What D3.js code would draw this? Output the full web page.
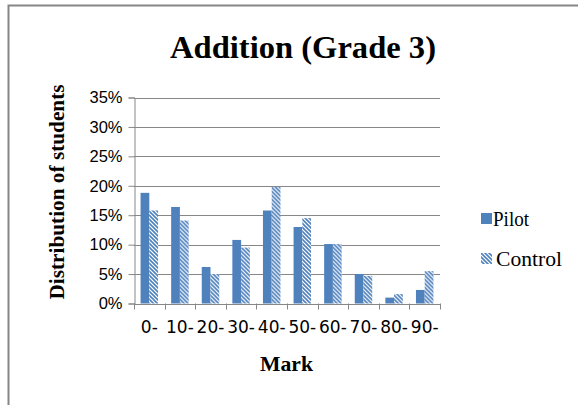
<!DOCTYPE html>
<html>
<head>
<meta charset="utf-8">
<script src="https://cdn.jsdelivr.net/npm/d3@7"></script>
<style>
  html, body { margin: 0; padding: 0; background: #fff; }
  svg { display: block; }
  .serif { font-family: "Liberation Serif", "Times New Roman", serif; fill: #000; }
  .sans { font-family: "Liberation Sans", Arial, sans-serif; fill: #000; }
  .wide { font-family: "DejaVu Sans", Verdana, sans-serif; fill: #000; }
</style>
</head>
<body>
<svg id="chart" width="578" height="405"></svg>
<script>
// Mark bands and share of students in each band
const categories = ["0-", "10-", "20-", "30-", "40-", "50-", "60-", "70-", "80-", "90-"];
const pilot   = [18.8, 16.4, 6.2, 10.8, 15.8, 13.0, 10.1, 5.0, 1.0, 2.3];
const control = [15.8, 14.1, 5.0, 9.5, 19.8, 14.5, 10.1, 4.7, 1.6, 5.5];
const seriesNames = ["Pilot", "Control"];
const yTicks = [0, 5, 10, 15, 20, 25, 30, 35];

const svg = d3.select("#chart");
const blue = "#4F81BD";
const gridColor = "#878787";

// hatch for the Control series
const defs = svg.append("defs");
const pat = defs.append("pattern")
  .attr("id", "hatch")
  .attr("patternUnits", "userSpaceOnUse")
  .attr("width", 4).attr("height", 4);
pat.append("rect").attr("width", 4).attr("height", 4).attr("fill", "#fff");
pat.append("path")
  .attr("d", "M-1,-1 L5,5 M-1,3 L1,5 M3,-1 L5,1")
  .attr("stroke", blue).attr("stroke-width", 1.6);

// outer chart frame
svg.append("rect")
  .attr("x", 8.5).attr("y", 5.5)
  .attr("width", 600).attr("height", 420)
  .attr("fill", "#fff").attr("stroke", "#868686").attr("stroke-width", 2);

const plot = { left: 134, right: 440, top: 97.5, bottom: 303.5 };

const x = d3.scaleBand().domain(categories).range([plot.left, plot.right]);
const y = d3.scaleLinear().domain([0, 35]).range([plot.bottom, plot.top]);

// gridlines
svg.append("g").selectAll("line").data(yTicks.filter(d => d > 0)).join("line")
  .attr("x1", plot.left).attr("x2", plot.right)
  .attr("y1", d => Math.round(y(d)) + 0.5).attr("y2", d => Math.round(y(d)) + 0.5)
  .attr("stroke", gridColor).attr("stroke-width", 1);

// y axis
const yAxis = svg.append("g")
  .attr("transform", `translate(${plot.left + 0.5},0)`)
  .call(d3.axisLeft(y).tickValues(yTicks).tickFormat(d => d + "%").tickSize(6).tickPadding(6));
yAxis.attr("font-family", null).attr("font-size", null);
yAxis.select(".domain").attr("stroke", gridColor);
yAxis.selectAll(".tick line").attr("stroke", gridColor);
yAxis.selectAll(".tick text").attr("class", "sans").attr("font-size", 16.5);

// bars
const inner = d3.scaleBand().domain(seriesNames)
  .range([0, x.bandwidth()]).paddingInner(0).paddingOuter(0.75);
const rows = categories.map((c, i) => ({ cat: c, vals: [pilot[i], control[i]] }));
const groups = svg.append("g").selectAll("g").data(rows).join("g")
  .attr("transform", d => `translate(${x(d.cat)},0)`);
groups.selectAll("rect").data(d => d.vals.map((v, j) => ({ name: seriesNames[j], v })))
  .join("rect")
  .attr("x", d => inner(d.name))
  .attr("width", inner.bandwidth())
  .attr("y", d => y(d.v))
  .attr("height", d => y(0) - y(d.v))
  .attr("fill", d => d.name === "Pilot" ? blue : "url(#hatch)");

// x axis
const xAxis = svg.append("g")
  .attr("transform", `translate(0,${plot.bottom + 0.5})`)
  .call(d3.axisBottom(x).tickSize(0).tickPadding(18));
xAxis.attr("font-family", null).attr("font-size", null);
xAxis.select(".domain").attr("stroke", gridColor);
xAxis.selectAll(".tick text").attr("class", "wide").attr("font-size", 17)
  .attr("dy", "0.32em").attr("y", 24);
// category boundary ticks
const bounds = categories.map(c => x(c)).concat([plot.right]);
svg.append("g").selectAll("line").data(bounds).join("line")
  .attr("x1", d => Math.round(d) + 0.5).attr("x2", d => Math.round(d) + 0.5)
  .attr("y1", plot.bottom).attr("y2", plot.bottom + 6)
  .attr("stroke", gridColor);

// titles
svg.append("text").attr("class", "serif").attr("x", 303).attr("y", 58)
  .attr("text-anchor", "middle").attr("font-size", 32).attr("font-weight", "bold")
  .attr("textLength", 266).attr("lengthAdjust", "spacingAndGlyphs")
  .text("Addition (Grade 3)");
svg.append("text").attr("class", "serif").attr("x", 286.5).attr("y", 371)
  .attr("text-anchor", "middle").attr("font-size", 21).attr("font-weight", "bold")
  .attr("textLength", 53).attr("lengthAdjust", "spacingAndGlyphs")
  .text("Mark");
svg.append("text").attr("class", "serif")
  .attr("transform", `translate(64,192) rotate(-90)`)
  .attr("text-anchor", "middle").attr("font-size", 21).attr("font-weight", "bold")
  .attr("textLength", 215).attr("lengthAdjust", "spacingAndGlyphs")
  .text("Distribution of students");

// legend
const legend = svg.append("g");
const legendTop = [213, 253];
const legendTextX = [493, 496];
const legendLen = [36, 66];
seriesNames.forEach((name, i) => {
  legend.append("rect").attr("x", 481).attr("y", legendTop[i]).attr("width", 11).attr("height", 11)
    .attr("fill", name === "Pilot" ? blue : "url(#hatch)");
  legend.append("text").attr("class", "serif").attr("x", legendTextX[i]).attr("y", legendTop[i] + 13)
    .attr("font-size", 20)
    .attr("textLength", legendLen[i]).attr("lengthAdjust", "spacingAndGlyphs")
    .text(name);
});
</script>
</body>
</html>
